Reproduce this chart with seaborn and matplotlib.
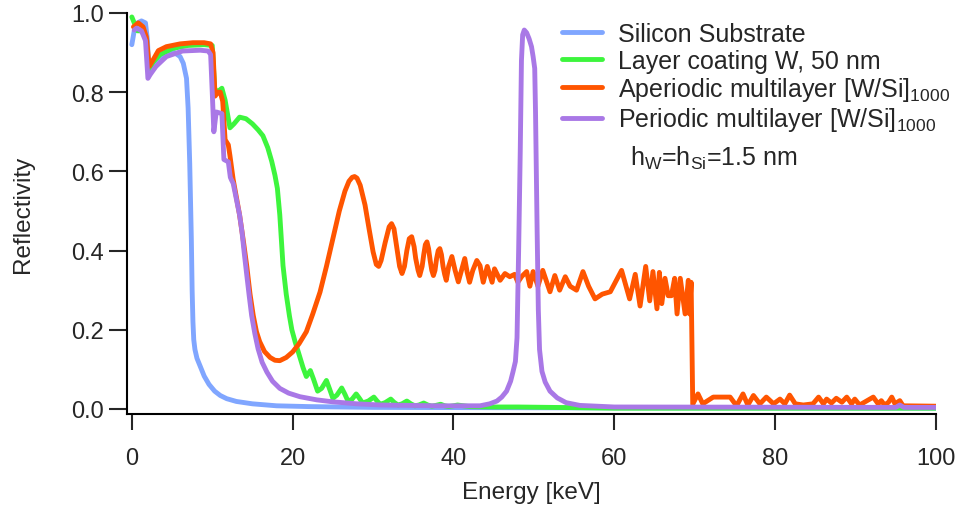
import seaborn as sns
import matplotlib.pyplot as plt
from matplotlib.ticker import MultipleLocator, FormatStrFormatter

# energia en keV, reflectividad
si_E = [0, 0.3, 0.7, 1.2, 1.7, 1.95, 2.1, 2.6, 3.5, 4.3, 5.3, 6.0, 6.4, 6.8, 7.0, 7.2, 7.4,
        7.5, 7.6, 7.7, 7.85, 8.1, 8.5, 9.0, 9.6, 10.3, 11.0, 11.8, 13, 15, 18, 22, 30, 50, 100]
si_R = [0.92, 0.955, 0.975, 0.98, 0.975, 0.93, 0.845, 0.865, 0.885, 0.895, 0.9, 0.89, 0.873,
        0.835, 0.76, 0.62, 0.43, 0.3, 0.22, 0.175, 0.15, 0.128, 0.108, 0.083, 0.062, 0.045,
        0.034, 0.026, 0.019, 0.013, 0.008, 0.006, 0.004, 0.003, 0.002]

w_E = [0, 0.3, 0.7, 1.2, 1.7, 1.95, 2.1, 2.6, 3.5, 5, 7, 9, 10.0, 10.3, 10.6, 11.2, 11.6,
       12.2, 12.7, 13.4, 14.2, 15.0, 15.7, 16.3, 16.9, 17.4, 17.8, 18.1, 18.4, 18.8, 19.2,
       19.6, 19.9, 20.3, 20.7, 21.3, 21.7, 22.2, 22.6, 23.1, 23.6, 24.2, 24.6, 25.0, 25.5,
       26.1, 26.5, 26.9, 27.4, 27.9, 28.3, 28.7, 29.4, 30.1, 30.5, 30.9, 31.5, 32.2, 32.6,
       33.1, 33.6, 34.2, 34.7, 35.2, 35.7, 36.3, 36.8, 37.3, 37.8, 38.4, 38.9, 39.4, 40.0,
       40.5, 42, 45, 48, 52, 60, 100]
w_R = [0.99, 0.975, 0.955, 0.955, 0.94, 0.9, 0.85, 0.875, 0.895, 0.91, 0.918, 0.92, 0.918,
       0.81, 0.8, 0.81, 0.78, 0.71, 0.72, 0.737, 0.733, 0.72, 0.705, 0.69, 0.66, 0.625,
       0.59, 0.557, 0.49, 0.362, 0.29, 0.235, 0.2, 0.17, 0.144, 0.104, 0.082, 0.097, 0.075,
       0.045, 0.052, 0.072, 0.05, 0.027, 0.035, 0.053, 0.037, 0.019, 0.025, 0.038, 0.027,
       0.015, 0.02, 0.03, 0.02, 0.012, 0.016, 0.025, 0.017, 0.01, 0.013, 0.02, 0.013, 0.008,
       0.01, 0.015, 0.01, 0.007, 0.009, 0.012, 0.008, 0.006, 0.008, 0.01, 0.006, 0.005,
       0.005, 0.004, 0.002, 0.002]

ap_E = [0.2, 0.8, 1.4, 1.8, 2.0, 2.15, 2.6, 3.3, 4.3, 6, 7.6, 9.0, 9.8, 10.1, 10.35, 10.7,
        11.0, 11.3, 11.6, 12.0, 12.2, 12.6, 13.0, 13.4, 13.9, 14.3, 14.7, 15.1, 15.5, 15.9,
        16.5, 17.2, 17.8, 18.4, 19.2, 20.0, 20.8, 21.7, 22.5, 23.4, 24.2, 25.0, 25.8, 26.5,
        27.0, 27.4, 27.7, 28.0, 28.4, 29.0, 29.5, 30.0, 30.4, 30.7, 31.0, 31.5, 32.0, 32.3,
        32.6, 33.0, 33.3, 33.6, 33.9, 34.2, 34.5, 34.8, 35.1, 35.3, 35.6, 35.8, 36.1, 36.3,
        36.5, 36.7, 36.9, 37.1, 37.3, 37.5, 37.7, 37.9, 38.1, 38.3, 38.5, 38.7, 38.9, 39.1,
        39.4, 39.8, 40.2, 40.6, 41.0, 41.4, 41.7, 42.0, 42.4, 42.9, 43.3, 43.7, 44.2, 44.8,
        45.1, 45.8, 46.4, 47.0, 47.6, 48.0, 48.5, 49.1, 49.5, 49.9, 50.5, 51.1, 52.0, 52.6,
        53.2, 53.9, 54.5, 55.3, 56.1, 56.8, 57.6, 58.5, 59.5, 60.9, 61.9, 62.6, 63.2, 63.9,
        64.4, 64.8, 65.3, 65.6, 65.9, 66.3, 66.7, 67.1, 67.5, 67.8, 68.2, 68.8, 69.2, 69.35,
        69.55, 69.75, 70.4, 71.0, 72.3, 73.3, 74.4, 75.2, 76.0, 76.6, 77.3, 78.1, 78.9, 79.8,
        80.6, 81.2, 81.8, 82.5, 83.5, 84.7, 85.4, 86.0, 86.4, 87.0, 87.6, 88.3, 88.9, 89.5,
        89.9, 90.5, 92.2, 92.8, 93.2, 93.6, 94.1, 94.5, 94.9, 95.5, 95.9, 100]
ap_R = [0.965, 0.975, 0.965, 0.94, 0.9, 0.865, 0.88, 0.905, 0.915, 0.922, 0.925, 0.925,
        0.922, 0.9, 0.79, 0.8, 0.8, 0.777, 0.68, 0.667, 0.64, 0.58, 0.535, 0.49, 0.42, 0.36,
        0.29, 0.236, 0.195, 0.17, 0.145, 0.13, 0.123, 0.122, 0.13, 0.144, 0.165, 0.195, 0.24,
        0.295, 0.36, 0.43, 0.5, 0.55, 0.575, 0.585, 0.587, 0.583, 0.565, 0.515, 0.455,
        0.397, 0.365, 0.36, 0.375, 0.42, 0.46, 0.468, 0.455, 0.40, 0.36, 0.342, 0.36, 0.4,
        0.43, 0.435, 0.41, 0.38, 0.35, 0.337, 0.36, 0.39, 0.415, 0.422, 0.405, 0.375, 0.35,
        0.337, 0.35, 0.38, 0.4, 0.405, 0.39, 0.36, 0.34, 0.325, 0.36, 0.385, 0.35, 0.321,
        0.35, 0.38, 0.345, 0.32, 0.35, 0.375, 0.362, 0.32, 0.36, 0.32, 0.354, 0.325, 0.342,
        0.334, 0.34, 0.32, 0.335, 0.347, 0.31, 0.347, 0.31, 0.35, 0.296, 0.337, 0.30, 0.334,
        0.31, 0.30, 0.347, 0.31, 0.278, 0.29, 0.296, 0.35, 0.278, 0.34, 0.26, 0.36, 0.273,
        0.347, 0.253, 0.345, 0.266, 0.33, 0.286, 0.286, 0.33, 0.24, 0.33, 0.24, 0.325, 0.24,
        0.32, 0.012, 0.038, 0.013, 0.03, 0.03, 0.03, 0.008, 0.038, 0.01, 0.034, 0.013, 0.03,
        0.013, 0.025, 0.013, 0.035, 0.013, 0.01, 0.013, 0.03, 0.013, 0.025, 0.015, 0.027,
        0.017, 0.03, 0.013, 0.025, 0.01, 0.03, 0.013, 0.021, 0.01, 0.017, 0.03, 0.013, 0.021,
        0.008, 0.007]

pe_E = [0.3, 0.6, 1.2, 1.7, 2.0, 2.3, 3.0, 4.3, 6.3, 8.5, 9.5, 9.8, 10.0, 10.2, 10.5, 11.2,
        11.45, 12.0, 12.25, 12.4, 12.6, 13.0, 13.4, 13.7, 14.0, 14.3, 14.6, 14.9, 15.3, 15.7,
        16.2, 16.8, 17.5, 18.4, 19.5, 20.9, 23, 25, 28, 31, 38, 43.3, 44.5, 45.4, 46.0, 46.6,
        47.1, 47.4, 47.7, 47.9, 48.1, 48.3, 48.45, 48.6, 48.8, 49.1, 49.4, 49.7, 49.9, 50.1,
        50.2, 50.3, 50.4, 50.55, 50.7, 51.0, 51.4, 52.0, 52.9, 54, 55.7, 60, 95, 95.5, 96, 100]
pe_R = [0.957, 0.962, 0.955, 0.93, 0.835, 0.845, 0.865, 0.89, 0.904, 0.906, 0.904, 0.895,
        0.8, 0.70, 0.75, 0.746, 0.63, 0.624, 0.585, 0.578, 0.57, 0.53, 0.49, 0.447, 0.39,
        0.337, 0.285, 0.236, 0.19, 0.152, 0.118, 0.093, 0.07, 0.052, 0.04, 0.031, 0.023,
        0.018, 0.013, 0.01, 0.008, 0.008, 0.013, 0.02, 0.03, 0.045, 0.07, 0.094, 0.12, 0.18,
        0.4, 0.65, 0.88, 0.945, 0.957, 0.95, 0.935, 0.915, 0.89, 0.86, 0.75, 0.6, 0.45, 0.25,
        0.15, 0.095, 0.068, 0.045, 0.028, 0.016, 0.009, 0.005, 0.004, 0.01, 0.004, 0.004]

labels = ['Silicon Substrate',
          'Layer coating W, 50 nm',
          r'Aperiodic multilayer [W/Si]$_{1000}$',
          r'Periodic multilayer [W/Si]$_{1000}$']
colors = ['#80A6FF', '#3DF53D', '#FF5500', '#A978E6']

sns.set_style('white')
plt.rcParams['font.family'] = ['Liberation Sans', 'DejaVu Sans']
plt.rcParams['mathtext.fontset'] = 'custom'
plt.rcParams['mathtext.rm'] = 'Liberation Sans'
plt.rcParams['mathtext.default'] = 'regular'

fig = plt.figure(figsize=(9.59, 5.10), dpi=100)
ax = fig.add_axes([127 / 959, 1 - 415 / 510, 809 / 959, 401 / 510])

data = [(si_E, si_R), (w_E, w_R), (ap_E, ap_R), (pe_E, pe_R)]
for (E, R), lab, col in zip(data, labels, colors):
    sns.lineplot(x=E, y=R, ax=ax, color=col, lw=3.5, label=lab,
                 estimator=None, sort=False, solid_joinstyle='round')

ax.set_xlim(-0.6, 100)
ax.set_ylim(-0.0127, 1.0)
ax.xaxis.set_major_locator(MultipleLocator(20))
ax.yaxis.set_major_locator(MultipleLocator(0.2))
ax.yaxis.set_major_formatter(FormatStrFormatter('%.1f'))
sns.despine(ax=ax)
for s in ['left', 'bottom']:
    ax.spines[s].set_linewidth(1.5)
    ax.spines[s].set_color('black')
ax.tick_params(axis='y', direction='out', length=13, width=1.5, pad=3.5,
               labelsize=17, left=True)
ax.tick_params(axis='x', direction='out', length=11.5, width=1.5, pad=12,
               labelsize=17, bottom=True)

ax.set_xlabel('Energy [keV]', fontsize=17.5)
ax.set_ylabel('Reflectivity', fontsize=17.5)
ax.xaxis.set_label_coords(0.5, -0.168)
ax.yaxis.set_label_coords(-0.115, 0.5)

ax.legend(loc='upper left', bbox_to_anchor=(562 / 959, 1 - 23 / 510),
          bbox_transform=fig.transFigure, frameon=False, fontsize=18,
          handlelength=1.6, handletextpad=0.65, labelspacing=0.1,
          borderpad=0, borderaxespad=0)
fig.text(630 / 959, 1 - 158 / 510, r'h$_W$=h$_{Si}$=1.5 nm', fontsize=18,
         va='center')

fig.savefig('out.png', dpi=100)
plt.close(fig)
